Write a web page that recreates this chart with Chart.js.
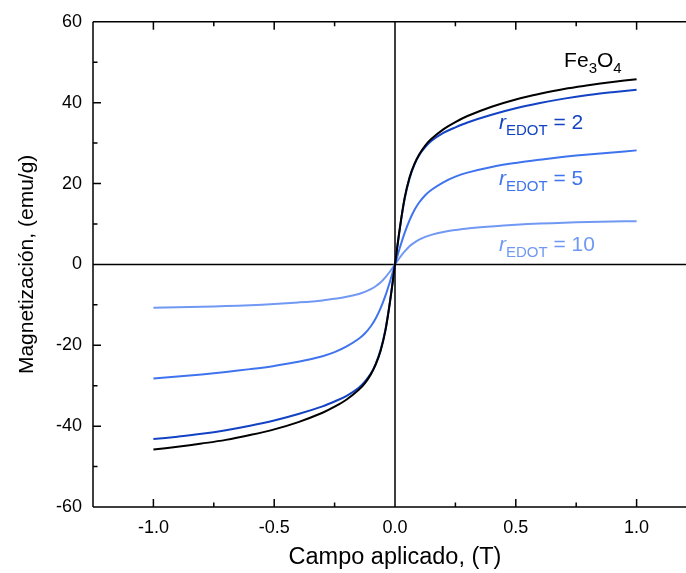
<!DOCTYPE html>
<html>
<head>
<meta charset="utf-8">
<script src="https://cdn.jsdelivr.net/npm/chart.js@4/dist/chart.umd.min.js"></script>
<style>
  html, body { margin: 0; padding: 0; background: #fff; overflow: hidden; }
  canvas { display: block; }
</style>
</head>
<body>
<canvas id="myChart" width="697" height="573"></canvas>
<script>
// applied field (T)
const field = [-1.0, -0.9, -0.8, -0.7, -0.6, -0.5, -0.4, -0.3, -0.25, -0.2, -0.15, -0.125, -0.1, -0.08, -0.06, -0.04, -0.02,
  0,
  0.02, 0.04, 0.06, 0.08, 0.1, 0.125, 0.15, 0.2, 0.25, 0.3, 0.4, 0.5, 0.6, 0.7, 0.8, 0.9, 1.0];

// magnetization (emu/g)
const magFe3O4 = [-45.8, -45.1, -44.3, -43.4, -42.2, -40.8, -39.0, -36.7, -35.2, -33.4, -31.0, -29.4, -27.2, -24.8, -21.5, -16.5, -9.0,
  0,
  9.0, 16.5, 21.5, 24.8, 27.2, 29.4, 31.0, 33.4, 35.2, 36.7, 39.0, 40.8, 42.2, 43.4, 44.3, 45.1, 45.8];
const magR2 = [-43.2, -42.6, -41.9, -41.0, -39.9, -38.6, -37.0, -35.1, -33.9, -32.5, -30.5, -29.0, -27.0, -24.6, -21.2, -16.2, -8.8,
  0,
  8.8, 16.2, 21.2, 24.6, 27.0, 29.0, 30.5, 32.5, 33.9, 35.1, 37.0, 38.6, 39.9, 41.0, 41.9, 42.6, 43.2];
const magR5 = [-28.2, -27.7, -27.2, -26.6, -25.9, -25.1, -24.1, -22.7, -21.7, -20.3, -18.4, -17.1, -15.3, -13.4, -10.9, -7.8, -4.1,
  0,
  4.1, 7.8, 10.9, 13.4, 15.3, 17.1, 18.4, 20.3, 21.7, 22.7, 24.1, 25.1, 25.9, 26.6, 27.2, 27.7, 28.2];
const magR10 = [-10.7, -10.6, -10.5, -10.3, -10.1, -9.8, -9.4, -8.9, -8.5, -8.0, -7.3, -6.8, -6.1, -5.4, -4.5, -3.2, -1.7,
  0,
  1.7, 3.2, 4.5, 5.4, 6.1, 6.8, 7.3, 8.0, 8.5, 8.9, 9.4, 9.8, 10.1, 10.3, 10.5, 10.6, 10.7];

const xTicks = [-1.0, -0.5, 0.0, 0.5, 1.0];
const xMinor = [-0.75, -0.25, 0.25, 0.75];
const yTicks = [-60, -40, -20, 0, 20, 40, 60];
const yMinor = [-50, -30, -10, 10, 30, 50];

const colFe = '#000000';
const col2 = '#1343c4';
const col5 = '#3f74ee';
const col10 = '#7199f4';

const FONT = '"Liberation Sans", Arial, sans-serif';

function pts(ys) {
  return field.map((x, i) => ({ x: x, y: ys[i] }));
}

function series(label, ys, color) {
  return {
    label: label,
    data: pts(ys),
    borderColor: color,
    backgroundColor: color,
    borderWidth: 2,
    pointRadius: 0,
    showLine: true,
    fill: false,
    tension: 0.35
  };
}

// frame, zero lines and inward ticks
const frame = {
  id: 'frame',
  beforeDatasetsDraw(chart) {
    const { ctx, chartArea: a, scales: { x, y } } = chart;
    ctx.save();
    ctx.strokeStyle = '#000';
    ctx.lineWidth = 1.5;
    ctx.beginPath();
    ctx.moveTo(a.left, a.top); ctx.lineTo(a.right, a.top);
    ctx.moveTo(a.left, a.bottom); ctx.lineTo(a.right, a.bottom);
    ctx.moveTo(a.left, a.top); ctx.lineTo(a.left, a.bottom);
    ctx.moveTo(a.right, a.top); ctx.lineTo(a.right, a.bottom);
    const x0 = x.getPixelForValue(0), y0 = y.getPixelForValue(0);
    ctx.moveTo(x0, a.top); ctx.lineTo(x0, a.bottom);
    ctx.moveTo(a.left, y0); ctx.lineTo(a.right, y0);
    xTicks.forEach(v => {
      const p = x.getPixelForValue(v);
      ctx.moveTo(p, a.bottom); ctx.lineTo(p, a.bottom - 8);
      ctx.moveTo(p, a.top); ctx.lineTo(p, a.top + 8);
    });
    xMinor.forEach(v => {
      const p = x.getPixelForValue(v);
      ctx.moveTo(p, a.bottom); ctx.lineTo(p, a.bottom - 4.5);
      ctx.moveTo(p, a.top); ctx.lineTo(p, a.top + 4.5);
    });
    yTicks.forEach(v => {
      const p = y.getPixelForValue(v);
      ctx.moveTo(a.left, p); ctx.lineTo(a.left + 8, p);
    });
    yMinor.forEach(v => {
      const p = y.getPixelForValue(v);
      ctx.moveTo(a.left, p); ctx.lineTo(a.left + 4.5, p);
    });
    ctx.stroke();
    ctx.restore();
  }
};

// curve labels, anchored in data units
const curveLabels = [
  { x: 0.70, y: 48.9, color: colFe, parts: [['Fe', 0], ['3', 1], ['O', 0], ['4', 1]] },
  { x: 0.43, y: 33.6, color: col2, parts: [['r', 2], ['EDOT', 1], [' = 2', 0]] },
  { x: 0.43, y: 19.6, color: col5, parts: [['r', 2], ['EDOT', 1], [' = 5', 0]] },
  { x: 0.43, y: 3.3, color: col10, parts: [['r', 2], ['EDOT', 1], [' = 10', 0]] }
];

const labelPlugin = {
  id: 'curveLabels',
  afterDatasetsDraw(chart) {
    const { ctx, scales: { x, y } } = chart;
    ctx.save();
    ctx.textBaseline = 'alphabetic';
    ctx.textAlign = 'left';
    curveLabels.forEach(l => {
      let px = x.getPixelForValue(l.x);
      const py = y.getPixelForValue(l.y);
      ctx.fillStyle = l.color;
      l.parts.forEach(([t, kind]) => {
        if (kind === 1) {
          ctx.font = '15px ' + FONT;
          ctx.fillText(t, px, py + 6);
        } else if (kind === 2) {
          ctx.font = 'italic 21px ' + FONT;
          ctx.fillText(t, px, py);
        } else {
          ctx.font = '21px ' + FONT;
          ctx.fillText(t, px, py);
        }
        px += ctx.measureText(t).width;
      });
    });
    ctx.restore();
  }
};

const ctx = document.getElementById('myChart').getContext('2d');

const config = {
  type: 'scatter',
  data: {
    datasets: [
      series('Fe3O4', magFe3O4, colFe),
      series('rEDOT = 2', magR2, col2),
      series('rEDOT = 5', magR5, col5),
      series('rEDOT = 10', magR10, col10)
    ]
  },
  options: {
    responsive: false,
    animation: false,
    events: [],
    layout: { padding: { top: 20, right: 0, bottom: 0, left: 0 } },
    plugins: { legend: { display: false }, tooltip: { enabled: false } },
    scales: {
      x: {
        type: 'linear',
        min: -1.25,
        max: 1.25,
        afterBuildTicks: s => { s.ticks = xTicks.map(v => ({ value: v })); },
        afterFit: s => { s.height = 66; },
        grid: { display: false, drawTicks: false },
        border: { display: false },
        ticks: {
          padding: 10,
          color: '#000',
          font: { family: FONT, size: 18 },
          callback: v => v.toFixed(1)
        },
        title: {
          display: true,
          text: 'Campo aplicado, (T)',
          color: '#000',
          font: { family: FONT, size: 23.5 },
          padding: { top: 0, bottom: 1 }
        }
      },
      y: {
        type: 'linear',
        min: -60,
        max: 60,
        afterBuildTicks: s => { s.ticks = yTicks.map(v => ({ value: v })); },
        afterFit: s => { s.width = 93; },
        grid: { display: false, drawTicks: false },
        border: { display: false },
        ticks: {
          padding: 11,
          color: '#000',
          font: { family: FONT, size: 18 }
        },
        title: {
          display: true,
          text: 'Magnetización, (emu/g)',
          color: '#000',
          font: { family: FONT, size: 21 },
          padding: { top: 15, bottom: 0 }
        }
      }
    }
  },
  plugins: [frame, labelPlugin]
};

const myChart = new Chart(ctx, config);
</script>
</body>
</html>
